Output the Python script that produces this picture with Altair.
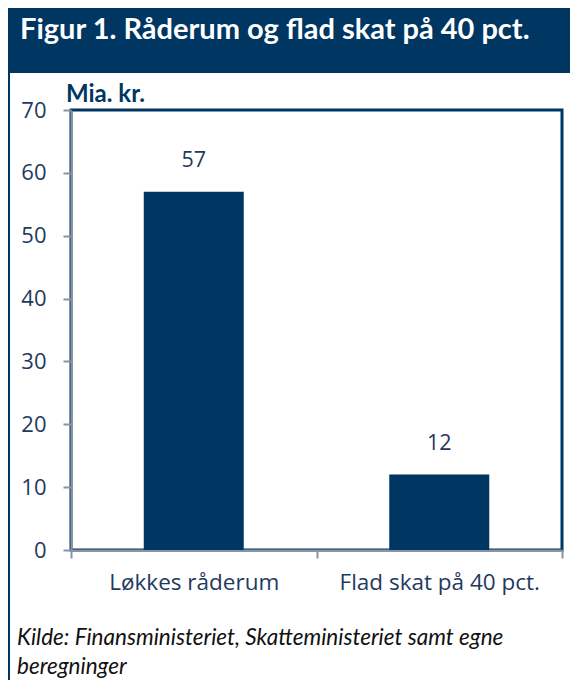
import altair as alt
import pandas as pd

categories = ["Løkkes råderum", "Flad skat på 40 pct."]
values = [57, 12]
y_ticks = [0, 10, 20, 30, 40, 50, 60, 70]
title_text = "Figur 1. Råderum og flad skat på 40 pct."
unit_text = "Mia. kr."
source_lines = ["Kilde: Finansministeriet, Skatteministeriet samt egne", "beregninger"]

BLUE = "#003662"
LABEL = "#1F3A5F"
GRAY = "#8A94A0"

df = pd.DataFrame({"cat": categories, "val": values})
one = pd.DataFrame({"a": [0]})

x_enc = alt.X("cat:N", sort=categories,
              scale=alt.Scale(paddingInner=0, paddingOuter=0),
              axis=alt.Axis(title=None, labelAngle=0, labelFont="Open Sans", labelFontSize=22.5,
                            labelColor=LABEL, labelLimit=0, domainColor=GRAY, domainWidth=2,
                            tickColor=GRAY, tickWidth=2, tickSize=8, tickBand="extent",
                            labelPadding=13))
y_enc = alt.Y("val:Q", scale=alt.Scale(domain=[0, 70], nice=False),
              axis=alt.Axis(title=None, values=y_ticks, grid=False, labelFont="Open Sans",
                            labelFontSize=22, labelColor=LABEL, domainColor=GRAY, domainWidth=2,
                            tickColor=GRAY, tickWidth=2, tickSize=8, labelPadding=17))

bars = alt.Chart(df).mark_bar(size=100, color=BLUE).encode(x=x_enc, y=y_enc)
labels = alt.Chart(df).mark_text(dy=-20, baseline="bottom", font="Open Sans", fontSize=21.5,
                                 color=LABEL).encode(
    x=alt.X("cat:N", sort=categories), y="val:Q", text="val:Q")

header = alt.Chart(one).mark_rect(color=BLUE).encode(
    x=alt.value(-63), x2=alt.value(499), y=alt.value(-102), y2=alt.value(-37))
title = alt.Chart(one).mark_text(align="left", baseline="alphabetic", font="Lato",
                                 fontWeight="bold", fontSize=29, color="white").encode(
    x=alt.value(-51), y=alt.value(-71), text=alt.value(title_text))
unit = alt.Chart(one).mark_text(align="left", baseline="alphabetic", font="Lato",
                                fontWeight="bold", fontSize=24, color=BLUE).encode(
    x=alt.value(-5), y=alt.value(-8), text=alt.value(unit_text))
border = alt.Chart(one).mark_rule(color=BLUE, strokeWidth=2).encode(
    x=alt.value(-62), y=alt.value(-37), y2=alt.value(570))
src1 = alt.Chart(one).mark_text(align="left", baseline="alphabetic", font="Lato",
                                fontStyle="italic", fontSize=22.5, color="#111111").encode(
    x=alt.value(-54), y=alt.value(535), text=alt.value(source_lines[0]))
src2 = alt.Chart(one).mark_text(align="left", baseline="alphabetic", font="Lato",
                                fontStyle="italic", fontSize=22.5, color="#111111").encode(
    x=alt.value(-54), y=alt.value(564), text=alt.value(source_lines[1]))

chart = alt.layer(bars, labels, header, title, unit, border, src1, src2).properties(
    width=491, height=440,
    autosize=alt.AutoSizeParams(type="none"),
    padding={"left": 63, "top": 102, "right": 8, "bottom": 130},
    background="white",
).configure_view(stroke=BLUE, strokeWidth=3)

chart.save("out.html", embed_options={"renderer": "svg", "actions": False})
